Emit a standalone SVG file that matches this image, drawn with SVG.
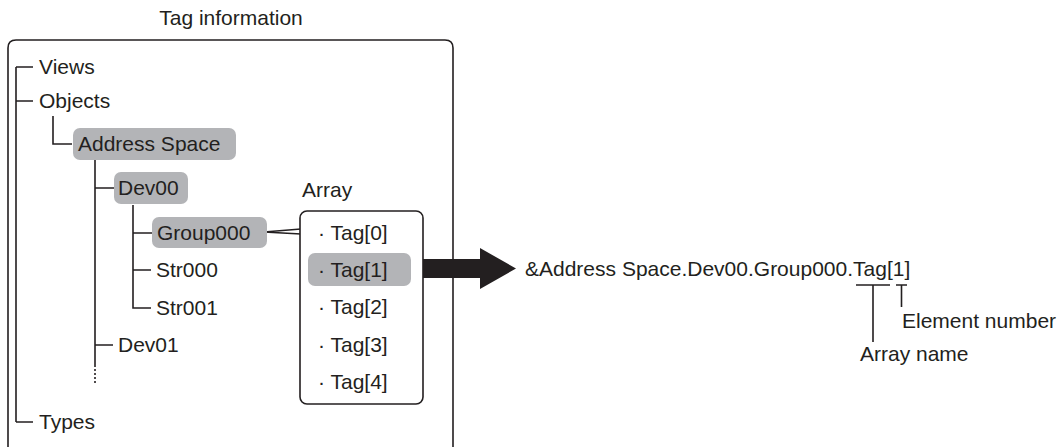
<svg xmlns="http://www.w3.org/2000/svg" width="1061" height="447" viewBox="0 0 1061 447">
<style>
text{font-family:"Liberation Sans",Arial,sans-serif;font-size:21px;fill:#231f20}
.ln{stroke:#231f20;stroke-width:1.6;fill:none}
.hl{fill:#b3b4b7}
.box{stroke:#231f20;stroke-width:1.6;fill:#fff}
</style>
<rect width="1061" height="447" fill="#fff"/>
<g id="frame">
<text x="231" y="25" text-anchor="middle">Tag information</text>
<path class="ln" d="M8,460 V48 Q8,40 16,40 H445 Q453,40 453,48 V460"/>
</g>
<g id="connectors">
<path class="ln" d="M16,67 V422 M16,67 H33 M16,101 H33 M16,422 H33"/>
<path class="ln" d="M53,116 V144 H72"/>
<path class="ln" d="M95,160 V365 M95,188 H114 M95,345 H113"/>
<path class="ln" d="M95,365 V383" stroke-dasharray="2,2"/>
<path class="ln" d="M133,205 V308 H151 M133,233 H152 M133,270 H151"/>
<path class="ln" d="M301,229 L264,232 L301,234" stroke-width="1.2"/>
<path class="ln" d="M856,285 H890 M873,285 V342 M896,285 H907 M901.5,285 V307"/>
<path fill="#231f20" d="M416,259 H480 V248 L516,268.5 L480,289 V278 H416 Z"/>
</g>
<g id="views"><text x="39" y="74">Views</text></g>
<g id="objects"><text x="39" y="108">Objects</text></g>
<g id="address-space"><rect class="hl" x="73" y="128" width="163" height="32" rx="7"/><text x="78" y="151">Address Space</text></g>
<g id="dev00"><rect class="hl" x="114" y="172" width="74" height="32" rx="7"/><text x="118" y="195">Dev00</text></g>
<g id="group000"><rect class="hl" x="152" y="217" width="115" height="31" rx="7"/><text x="157" y="240">Group000</text></g>
<g id="str000"><text x="156" y="277">Str000</text></g>
<g id="str001"><text x="156" y="315">Str001</text></g>
<g id="dev01"><text x="118" y="352">Dev01</text></g>
<g id="types"><text x="39" y="429">Types</text></g>
<g id="array">
<text x="302" y="197">Array</text>
<rect class="box" x="300" y="211" width="123" height="193" rx="7"/>
<rect class="hl" x="308" y="253" width="103" height="33" rx="7"/>
<text x="318" y="240">· Tag[0]</text>
<text x="318" y="277">· Tag[1]</text>
<text x="318" y="314">· Tag[2]</text>
<text x="318" y="352">· Tag[3]</text>
<text x="318" y="389">· Tag[4]</text>
</g>
<g id="reference"><text x="525" y="276">&amp;Address Space.Dev00.Group000.Tag[1]</text></g>
<g id="element-number"><text x="902" y="328">Element number</text></g>
<g id="array-name"><text x="860" y="361">Array name</text></g>
</svg>
